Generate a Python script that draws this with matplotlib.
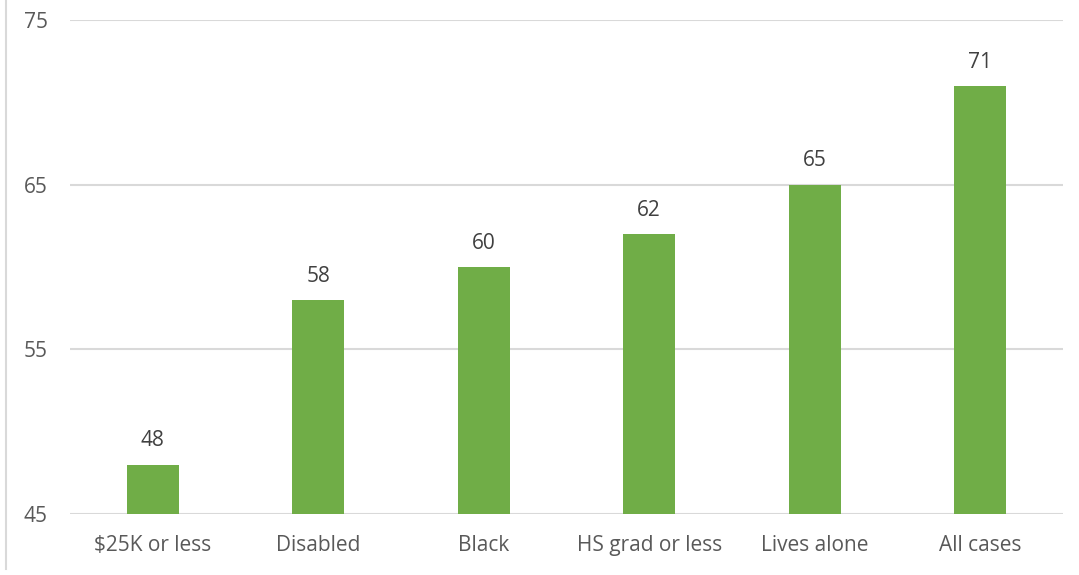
import matplotlib.pyplot as plt
from matplotlib.lines import Line2D

categories = ['$25K or less', 'Disabled', 'Black', 'HS grad or less', 'Lives alone', 'All cases']
values = [48, 58, 60, 62, 65, 71]
yticks = [45, 55, 65, 75]

plt.rcParams['font.family'] = ['Open Sans', 'DejaVu Sans']

fig = plt.figure(figsize=(10.79, 5.75), dpi=100)
ax = fig.add_axes([70 / 1079, 1 - 514 / 575, (1063 - 70) / 1079, (514 - 20) / 575])

x = range(len(categories))
bars = ax.bar(x, [v - 45 for v in values], bottom=45, width=0.315, color='#70AD47', zorder=3)

for xi, v in zip(x, values):
    ax.text(xi, v + 0.8, str(v), ha='center', va='bottom', fontsize=15, color='#404040')

ax.set_xlim(-0.5, len(categories) - 0.5)
ax.set_ylim(45, 75)
ax.set_yticks(yticks)
ax.set_yticklabels([str(t) for t in yticks], fontsize=15, color='#595959')
ax.set_xticks(list(x))
ax.set_xticklabels(categories, fontsize=15, color='#595959')
ax.tick_params(axis='both', length=0)
ax.tick_params(axis='y', pad=16)
ax.tick_params(axis='x', pad=15)

ax.grid(axis='y', color='#D9D9D9', linewidth=1.5, zorder=0)
for s in ax.spines.values():
    s.set_visible(False)

# light border line at left edge of the picture
fig.add_artist(Line2D([6 / 1079, 6 / 1079], [0.01, 1], transform=fig.transFigure,
                      color='#D9D9D9', linewidth=1.5))

plt.savefig('out.png', dpi=100)
